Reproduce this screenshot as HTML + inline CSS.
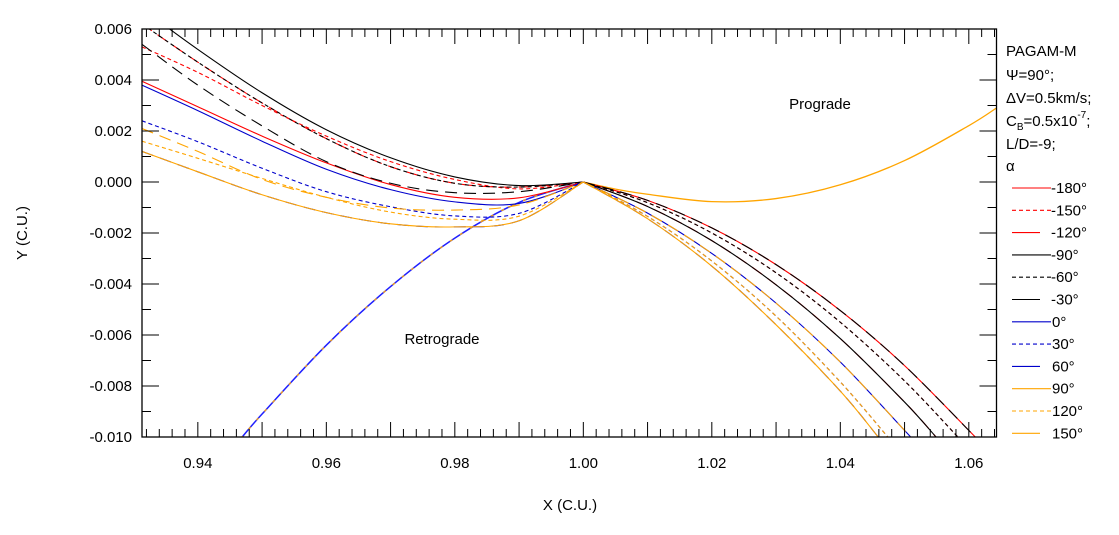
<!DOCTYPE html>
<html><head><meta charset="utf-8"><style>
html,body{margin:0;padding:0;background:#fff;}
svg{display:block;font-family:"Liberation Sans",sans-serif;}
</style></head><body>
<svg id="chart" width="1119" height="535" viewBox="0 0 1119 535">
<defs><clipPath id="clip"><rect x="142" y="29" width="854.5" height="408"/></clipPath></defs>
<g id="plot" clip-path="url(#clip)"></g>
<g id="axes"></g>
<g id="legend"></g>
<text x="820" y="109" font-size="15" fill="#000" text-anchor="middle">Prograde</text>
<text x="442" y="344" font-size="15" fill="#000" text-anchor="middle">Retrograde</text>
<text x="570" y="510" font-size="15" fill="#000" text-anchor="middle">X (C.U.)</text>
<text x="0" y="0" font-size="15" fill="#000" text-anchor="middle" transform="translate(27,233) rotate(-90)">Y (C.U.)</text>
</svg>
<script>
// ---- data ----
const seriesLabels = ["-180°","-150°","-120°","-90°","-60°","-30°","0°","30°","60°","90°","120°","150°"];
const seriesColors = ["#ff0000","#ff0000","#ff0000","#000000","#000000","#000000","#0000cc","#0000cc","#0000cc","#ffa500","#ffa500","#ffa500"];
const seriesStyles = ["solid","dash","long","solid","dash","long","solid","dash","long","solid","dash","long"];
const leftX = [0.9313,0.94,0.95,0.96,0.97,0.98,0.99,1.0];
const leftM180 = [0.00395,0.00295,0.0018,0.00075,-0.0001,-0.0006,-0.00062,0];
const leftM150 = [0.0053,0.0043,0.0030,0.0018,0.0008,0.0001,-0.00027,0];
const leftM120 = [0.0062,0.0047,0.0031,0.0017,0.0006,-0.00005,-0.0002,0];
const leftM90 = [0.0068,0.0052,0.0035,0.00205,0.00095,0.0002,-0.00014,0];
const leftM60 = [0.0062,0.0047,0.0031,0.0017,0.0006,-0.00005,-0.0002,0];
const leftM30 = [0.0054,0.0038,0.0022,0.0008,-0.00005,-0.00042,-0.00038,0];
const leftP0 = [0.0038,0.0028,0.0016,0.0005,-0.0003,-0.00078,-0.00084,0];
const leftP30 = [0.0024,0.00158,0.00054,-0.00038,-0.00097,-0.00133,-0.00123,0];
const leftP60 = [0.0012,0.0004,-0.0005,-0.0012,-0.00164,-0.00176,-0.00152,0];
const leftP90 = [0.0012,0.0004,-0.0005,-0.0012,-0.00164,-0.00176,-0.00152,0];
const leftP120 = [0.0016,0.00093,0.00014,-0.0006,-0.00118,-0.00146,-0.00134,0];
const leftP150 = [0.0021,0.0012,0.0001,-0.0006,-0.00102,-0.0011,-0.0009,0];
const rightX = [1.0,1.01,1.02,1.03,1.04,1.05];
const rightM180 = [0,-0.00072,-0.0018,-0.00324,-0.00504,-0.0072];
const rightM150 = [0,-0.00081,-0.002,-0.00356,-0.0055,-0.0078];
const rightM120 = [0,-0.00096,-0.0023,-0.00403,-0.00614,-0.00863];
const rightM90 = [0,-0.00096,-0.0023,-0.00403,-0.00614,-0.00863];
const rightM60 = [0,-0.00081,-0.002,-0.00356,-0.0055,-0.0078];
const rightM30 = [0,-0.00072,-0.0018,-0.00324,-0.00504,-0.0072];
const rightP0 = [0,-0.00122,-0.0028,-0.00475,-0.00706,-0.00974];
const rightP30 = [0,-0.00135,-0.0031,-0.00526,-0.00784];
const rightP60 = [0,-0.00144,-0.0033,-0.0056,-0.0082];
const rightP90 = [0,-0.00144,-0.0033,-0.0056,-0.0082];
const rightP120 = [0,-0.00135,-0.0031,-0.00526,-0.00784];
const rightP150 = [0,-0.00122,-0.0028,-0.00475,-0.00706,-0.00974];
const rightEndX = [1.061,1.0583,1.0549,1.0549,1.0583,1.061,1.0509,1.0474,1.0459,1.0459,1.0474,1.0509];
const rightEndY = -0.010;
const progradeX = [1.0,1.005,1.01,1.02,1.03,1.04,1.05,1.06,1.0643];
const progradeY = [0,-0.00028,-0.00048,-0.00077,-0.00065,-0.00011,0.00084,0.00221,0.0029];
const retroX = [1.0,0.99,0.98,0.97,0.96,0.95,0.9469];
const retroY = [0,-0.0008,-0.0022,-0.0041,-0.0064,-0.0091,-0.010];
const xTicks = ["0.94","0.96","0.98","1.00","1.02","1.04","1.06"];
const yTicks = ["0.006","0.004","0.002","0.000","-0.002","-0.004","-0.006","-0.008","-0.010"];

const leftSets=[leftM180,leftM150,leftM120,leftM90,leftM60,leftM30,leftP0,leftP30,leftP60,leftP90,leftP120,leftP150];
const rightSets=[rightM180,rightM150,rightM120,rightM90,rightM60,rightM30,rightP0,rightP30,rightP60,rightP90,rightP120,rightP150];

// ---- scales ----
const X0=142,X1=996.5,Y0=29,Y1=437;
const xMin=0.93131,xMax=1.06431,yMin=-0.010,yMax=0.006;
function sx(v){return X0+(v-xMin)/(xMax-xMin)*(X1-X0);}
function sy(v){return Y1-(v-yMin)/(yMax-yMin)*(Y1-Y0);}
const NS="http://www.w3.org/2000/svg";
function mk(tag,attrs,parent){const e=document.createElementNS(NS,tag);for(const k in attrs)e.setAttribute(k,attrs[k]);parent.appendChild(e);return e;}
function smooth(pts){
  let d="M"+pts[0][0].toFixed(2)+","+pts[0][1].toFixed(2);
  for(let i=0;i<pts.length-1;i++){
    const p0=pts[Math.max(0,i-1)],p1=pts[i],p2=pts[i+1],p3=pts[Math.min(pts.length-1,i+2)];
    const c1=[p1[0]+(p2[0]-p0[0])/6,p1[1]+(p2[1]-p0[1])/6];
    const c2=[p2[0]-(p3[0]-p1[0])/6,p2[1]-(p3[1]-p1[1])/6];
    d+="C"+c1[0].toFixed(2)+","+c1[1].toFixed(2)+" "+c2[0].toFixed(2)+","+c2[1].toFixed(2)+" "+p2[0].toFixed(2)+","+p2[1].toFixed(2);
  }
  return d;
}
const dashes={solid:"none",dash:"4,3",long:"12,7"};
const plot=document.getElementById('plot');
const axes=document.getElementById('axes');
const legend=document.getElementById('legend');

// prograde & retrograde branches
let pp=progradeX.map((x,i)=>[sx(x),sy(progradeY[i])]);
let e=mk('path',{d:smooth(pp),fill:"none",stroke:"#ffa500","stroke-width":1.3},plot);


let rp=retroX.map((x,i)=>[sx(x),sy(retroY[i])]);
e=mk('path',{d:smooth(rp),fill:"none",stroke:"#2020ff","stroke-width":1.5},plot);


e=mk('path',{d:smooth(rp),fill:"none",stroke:"#ffa500","stroke-width":1.2,"stroke-dasharray":"3,9"},plot);



// series
for(let s=0;s<12;s++){
  const L=leftSets[s].map((y,i)=>[sx(leftX[i]),sy(y)]);
  const R=rightSets[s].map((y,i)=>[sx(rightX[i]),sy(y)]);
  R.push([sx(rightEndX[s]),sy(rightEndY)]);
  const a={fill:"none",stroke:seriesColors[s],"stroke-width":1.1};
  if(seriesStyles[s]!=="solid")a["stroke-dasharray"]=dashes[seriesStyles[s]];
  a.d=smooth(L);
  e=mk('path',a,plot);
  
  
  a.d=smooth(R);
  e=mk('path',a,plot);
  
  
}

// frame
e=mk('rect',{x:X0,y:Y0,width:X1-X0,height:Y1-Y0,fill:"none",stroke:"#000","stroke-width":1.3},axes);


// x ticks: minor every 0.002, major every 0.01
for(let k=0;k<=80;k++){
  const v=0.930+k*0.002; if(v<xMin-1e-9||v>xMax+1e-9)continue;
  const X=sx(v); const major=k%5===0;
  const L=major?15:8;
  mk('line',{x1:X,y1:Y1,x2:X,y2:Y1-L,stroke:"#000","stroke-width":1},axes);
  mk('line',{x1:X,y1:Y0,x2:X,y2:Y0+L,stroke:"#000","stroke-width":1},axes);
}
xTicks.forEach(t=>{
  e=mk('text',{x:sx(parseFloat(t)),y:468,"font-size":15,"text-anchor":"middle",fill:"#000"},axes);
  e.textContent=t;
  
  
});
// y ticks
for(let k=0;k<=16;k++){
  const v=yMin+k*0.001; const Y=sy(v); const major=k%2===0; const L=major?17:9;
  mk('line',{x1:X0,y1:Y,x2:X0+L,y2:Y,stroke:"#000","stroke-width":1},axes);
  mk('line',{x1:X1,y1:Y,x2:X1-L,y2:Y,stroke:"#000","stroke-width":1},axes);
}
yTicks.forEach(t=>{
  e=mk('text',{x:132,y:sy(parseFloat(t))+5,"font-size":15,"text-anchor":"end",fill:"#000"},axes);
  e.textContent=t;
  
  
});

// legend header
const hdr=[["PAGAM-M",56],["Ψ=90°;",80],["ΔV=0.5km/s;",103],["",126],["L/D=-9;",149],["α",171]];
hdr.forEach((h,i)=>{
  if(i===3)return;
  e=mk('text',{x:1006,y:h[1],"font-size":15,fill:"#000"},legend);
  e.textContent=h[0];
  
  
});
e=mk('text',{x:1006,y:126,"font-size":15,fill:"#000"},legend);
e.innerHTML='C<tspan font-size="10" dy="4">B</tspan><tspan dy="-4">=0.5x10</tspan><tspan font-size="10" dy="-8">-7</tspan><tspan dy="8">;</tspan>';


for(let s=0;s<12;s++){
  const Y=188+s*22.3;
  const a={x1:1012,y1:Y,x2:seriesStyles[s]==="long"?1040:1051,y2:Y,stroke:seriesColors[s],"stroke-width":1.1};
  if(seriesStyles[s]==="dash")a["stroke-dasharray"]="4,3";
  e=mk('line',a,legend);
  
  
  e=mk('text',{x:seriesLabels[s].startsWith('-')?1051:1052,y:Y+5,"font-size":15,fill:"#000"},legend);
  e.textContent=seriesLabels[s];
  
  
}
</script>
</body></html>
